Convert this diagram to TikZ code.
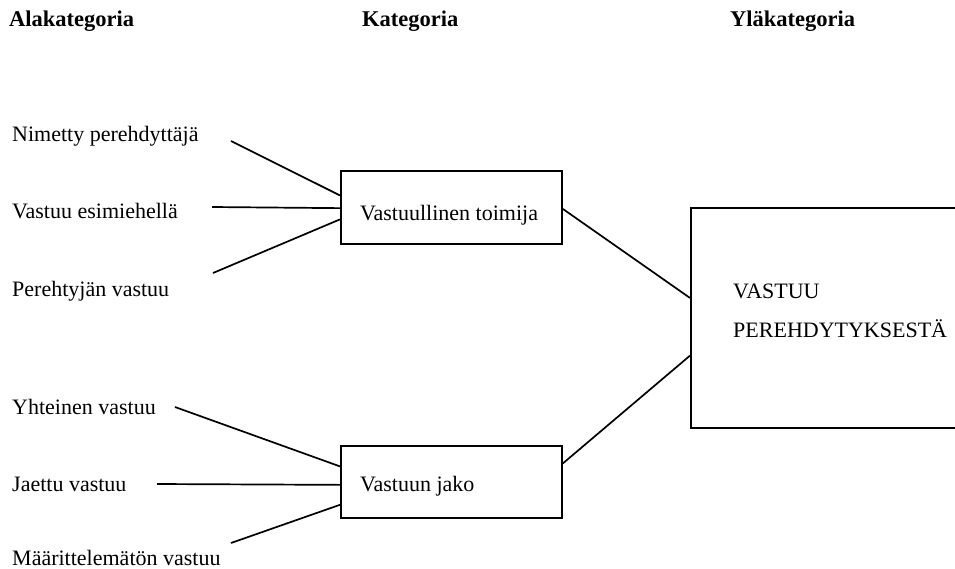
\documentclass[tikz,border=0pt]{standalone}
\usepackage{fontspec}
\setmainfont{Liberation Serif}
\usetikzlibrary{calc}
\begin{document}
\begin{tikzpicture}[x=1pt,y=-1pt,
  lbl/.style={inner sep=0pt,anchor=base west,font=\fontsize{22}{24}\selectfont},
  hdr/.style={inner sep=0pt,anchor=base west,font=\fontsize{22.5}{24}\selectfont\bfseries},
  box/.style={draw,line width=1.8pt,inner sep=0pt,anchor=north west},
  conn/.style={line width=1.7pt}]
\useasboundingbox (0,0) rectangle (955,568);
% headers
\node[hdr] (h1) at (9,26) {Alakategoria};
\node[hdr] (h2) at (362,26) {Kategoria};
\node[hdr] (h3) at (730,26) {Yläkategoria};
% boxes
\node[box,minimum width=221pt,minimum height=73pt] (vt) at (340,170) {};
\node[box,minimum width=221pt,minimum height=72pt] (vj) at (340,445) {};
\node[box,minimum width=275pt,minimum height=220pt] (vp) at (690,207) {};
\node[lbl] (tvt) at (360,220) {Vastuullinen toimija};
\node[lbl] (tvj) at (360,491) {Vastuun jako};
\node[lbl] (tvp1) at (733,298) {VASTUU};
\node[lbl] (tvp2) at (733,337) {PEREHDYTYKSESTÄ};
% left labels
\node[lbl] (a1) at (12,141) {Nimetty perehdyttäjä};
\node[lbl] (a2) at (12,218) {Vastuu esimiehellä};
\node[lbl] (a3) at (12,296) {Perehtyjän vastuu};
\node[lbl] (b1) at (12,414) {Yhteinen vastuu};
\node[lbl] (b2) at (12,491) {Jaettu vastuu};
\node[lbl] (b3) at (12,565) {Määrittelemätön vastuu};
% connector free ends
\coordinate (ca1) at (231,141);
\coordinate (ca2) at (212,207);
\coordinate (ca3) at (213,273);
\coordinate (cb1) at (175,407);
\coordinate (cb2) at (157,484);
\coordinate (cb3) at (231,543);
% connectors
\draw[conn] (ca1) -- ($(vt.north west)!0.34!(vt.south west)$);
\draw[conn] (ca2) -- ($(vt.north west)!0.51!(vt.south west)$);
\draw[conn] (ca3) -- ($(vt.north west)!0.66!(vt.south west)$);
\draw[conn] (cb1) -- ($(vj.north west)!0.29!(vj.south west)$);
\draw[conn] (cb2) -- ($(vj.north west)!0.54!(vj.south west)$);
\draw[conn] (cb3) -- ($(vj.north west)!0.81!(vj.south west)$);
\draw[conn] ($(vt.north east)!0.52!(vt.south east)$) -- ($(vp.north west)!0.41!(vp.south west)$);
\draw[conn] ($(vj.north east)!0.25!(vj.south east)$) -- ($(vp.north west)!0.67!(vp.south west)$);
\end{tikzpicture}
\end{document}
